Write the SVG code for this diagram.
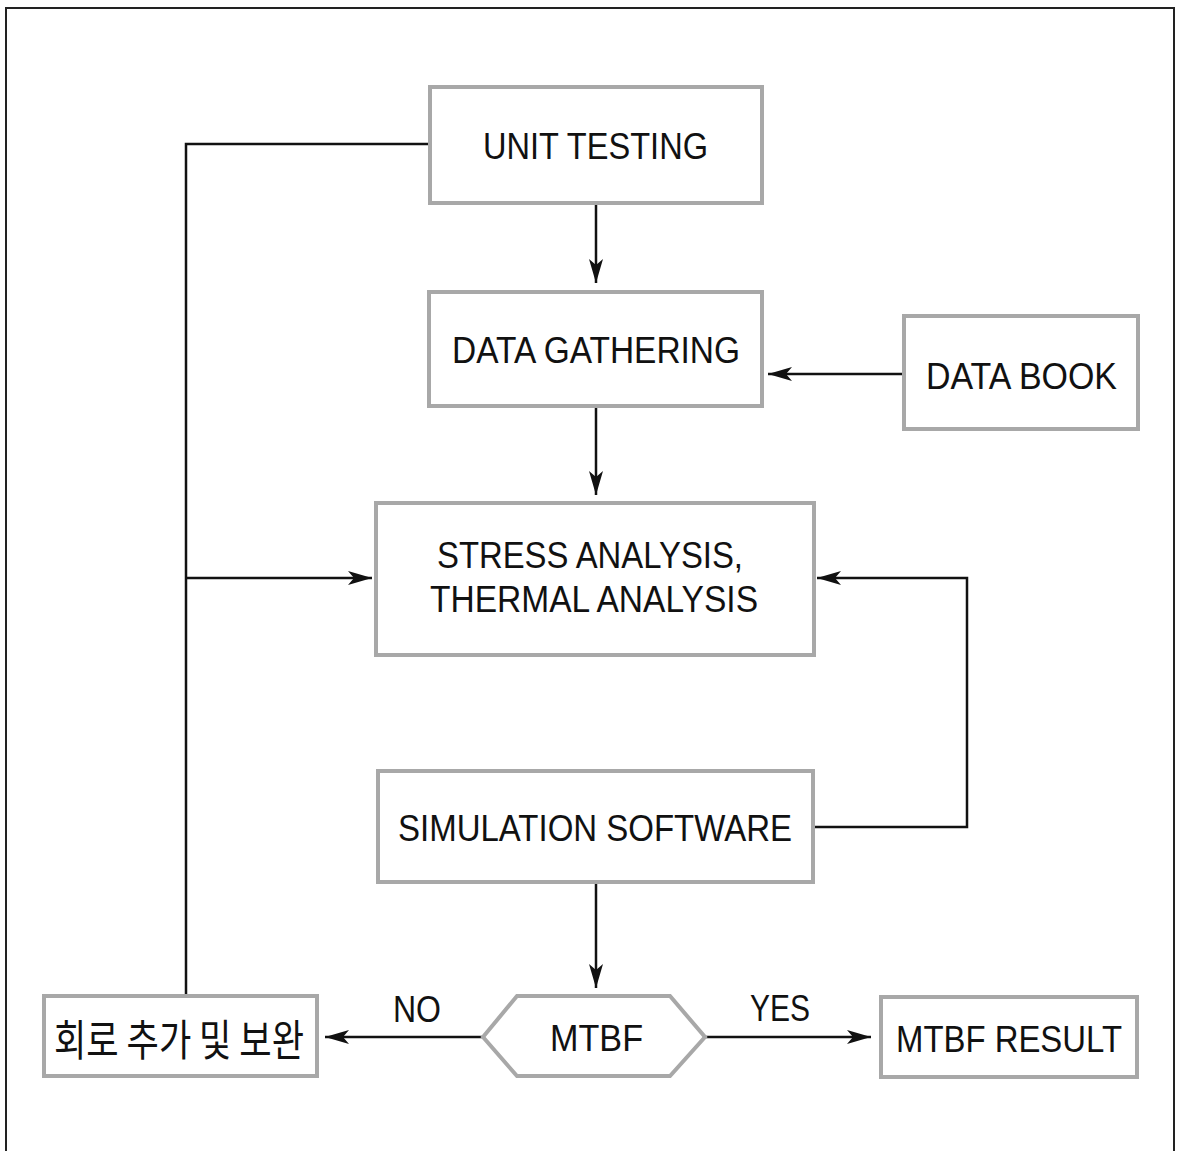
<svg xmlns="http://www.w3.org/2000/svg" width="1183" height="1151" viewBox="0 0 1183 1151">
<style>
.box{fill:#fff;stroke:#a8a8a8;stroke-width:4}
.lbl{font-family:"Liberation Sans","Noto Sans",Arial,sans-serif;font-size:37px;fill:#111;text-anchor:middle}
.kr{font-family:"Noto Sans CJK KR","Noto Sans",sans-serif;font-size:43px;fill:#111;text-anchor:middle}
.ln{fill:none;stroke:#111;stroke-width:2.5}
</style>
<defs>
<marker id="ah" markerUnits="userSpaceOnUse" viewBox="0 0 24 14" markerWidth="24" markerHeight="14" refX="24" refY="7" orient="auto">
<path d="M0,0 L24,7 L0,14 L6,7 Z" fill="#111"/>
</marker>
</defs>
<rect width="1183" height="1151" fill="#fff"/>
<path d="M6,1151 V8 H1174 V1151" fill="none" stroke="#222" stroke-width="2"/>
<g id="connectors">
<path class="ln" d="M596,203 V283" marker-end="url(#ah)"/>
<path class="ln" d="M903,374 H768" marker-end="url(#ah)"/>
<path class="ln" d="M596,406 V495" marker-end="url(#ah)"/>
<path class="ln" d="M429,144 H186 V995"/>
<path class="ln" d="M186,578 H372" marker-end="url(#ah)"/>
<path class="ln" d="M814,827 H967 V578 H817" marker-end="url(#ah)"/>
<path class="ln" d="M596,883 V988" marker-end="url(#ah)"/>
<path class="ln" d="M483,1037 H325" marker-end="url(#ah)"/>
<path class="ln" d="M705,1037 H871" marker-end="url(#ah)"/>
<text class="lbl" x="417" y="1022" textLength="48" lengthAdjust="spacingAndGlyphs">NO</text>
<text class="lbl" x="780" y="1021" textLength="60" lengthAdjust="spacingAndGlyphs">YES</text>
</g>
<g id="unit-testing">
<rect class="box" x="430" y="87" width="332" height="116"/>
<text class="lbl" x="595.5" y="159" textLength="225" lengthAdjust="spacingAndGlyphs">UNIT TESTING</text>
</g>
<g id="data-gathering">
<rect class="box" x="429" y="292" width="333" height="114"/>
<text class="lbl" x="596" y="363" textLength="288" lengthAdjust="spacingAndGlyphs">DATA GATHERING</text>
</g>
<g id="data-book">
<rect class="box" x="904" y="316" width="234" height="113"/>
<text class="lbl" x="1021.5" y="389" textLength="191" lengthAdjust="spacingAndGlyphs">DATA BOOK</text>
</g>
<g id="stress-analysis">
<rect class="box" x="376" y="503" width="438" height="152"/>
<text class="lbl" x="590" y="568" textLength="306" lengthAdjust="spacingAndGlyphs">STRESS ANALYSIS,</text>
<text class="lbl" x="594" y="612" textLength="328" lengthAdjust="spacingAndGlyphs">THERMAL ANALYSIS</text>
</g>
<g id="simulation-software">
<rect class="box" x="378" y="771" width="435" height="111"/>
<text class="lbl" x="595" y="841" textLength="394" lengthAdjust="spacingAndGlyphs">SIMULATION SOFTWARE</text>
</g>
<g id="mtbf">
<polygon class="box" points="483,1037 517,996 670,996 705,1037 670,1076 517,1076"/>
<text class="lbl" x="596.5" y="1051" textLength="93" lengthAdjust="spacingAndGlyphs">MTBF</text>
</g>
<g id="circuit-fix">
<rect class="box" x="44" y="996" width="273" height="80"/>
<text class="kr" x="179" y="1056" textLength="250" lengthAdjust="spacingAndGlyphs">회로 추가 및 보완</text>
</g>
<g id="mtbf-result">
<rect class="box" x="881" y="997" width="256" height="80"/>
<text class="lbl" x="1009" y="1052" textLength="226" lengthAdjust="spacingAndGlyphs">MTBF RESULT</text>
</g>
</svg>
